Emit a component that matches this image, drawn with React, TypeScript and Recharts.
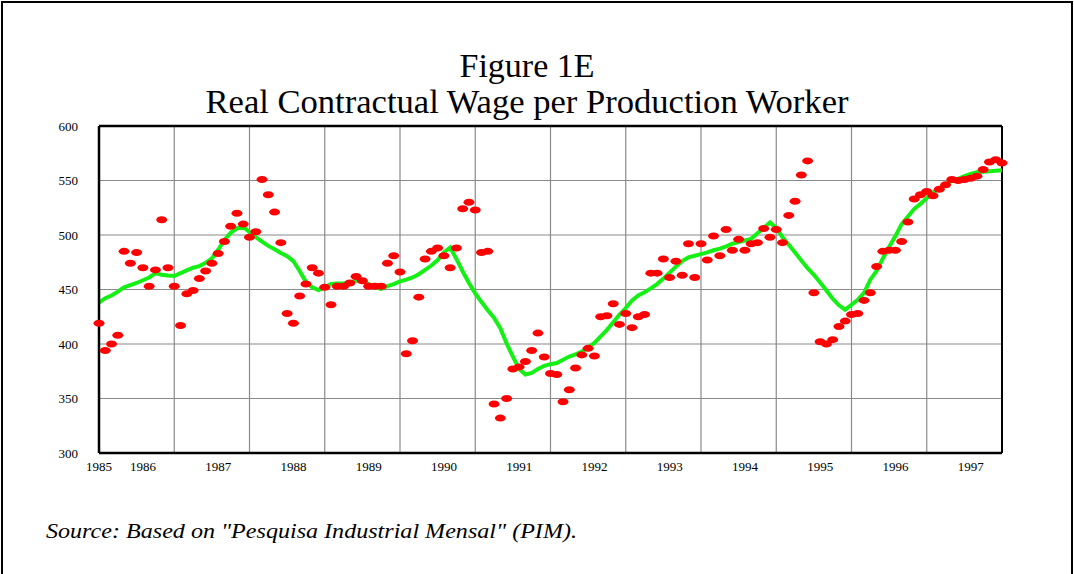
import React from 'react';
import { ComposedChart, Scatter, Line, XAxis, YAxis, CartesianGrid, ReferenceLine } from 'recharts';

// Monthly series, first point = June 1985, last = June 1997
const YEARS = ['1985', '1986', '1987', '1988', '1989', '1990', '1991', '1992', '1993', '1994', '1995', '1996', '1997'];

const WAGE = [
  419, 394, 400, 408, 485, 474, 484, 470, 453, 468, 514, 470,
  453, 417, 446, 449, 460, 467, 474, 483, 494, 508, 520, 510,
  498, 503, 551, 537, 521, 493, 428, 419, 444, 455, 470, 465,
  452, 436, 453, 453, 456, 462, 458, 453, 453, 453, 474, 481,
  466, 391, 403, 443, 478, 485, 488, 481, 470, 488, 524, 530,
  523, 484, 485, 345, 332, 350, 377, 379, 384, 394, 410, 388,
  373, 372, 347, 358, 378, 390, 396, 389, 425, 426, 437, 418,
  428, 415, 425, 427, 465, 465, 478, 461, 476, 463, 492, 461,
  492, 477, 499, 481, 505, 486, 496, 486, 492, 493, 506, 498,
  505, 493, 518, 531, 555, 568, 447, 402, 400, 404, 416, 421,
  427, 428, 440, 447, 471, 485, 486, 486, 494, 512, 533, 537,
  540, 536, 542, 546, 551, 550, 551, 552, 554, 560, 567, 569,
  566,
];

const TREND = [
  438, 442, 444.5, 448, 452, 454, 456, 458.5, 461, 465, 463.5, 462.8,
  462.4, 465, 467.5, 470, 471.5, 474.5, 478.5, 486.5, 495.5, 502, 506, 507.5,
  502.5, 498, 494, 490, 487, 483.5, 480.5, 476, 467, 457, 452, 449.5,
  452, 455, 455.5, 455.5, 456.5, 458, 458, 455, 452, 450.5, 453, 455,
  457.5, 459, 461, 464, 468, 472, 477, 484, 488.5, 478, 466.5, 456,
  446.5, 438.5, 431, 424, 414.5, 400.5, 388.5, 377, 372, 373.5, 377, 380,
  381.5, 382.5, 385.5, 388.5, 390.5, 393, 397, 401, 407, 413, 420, 427,
  433, 440, 444.5, 447.5, 451, 455, 460, 465.5, 471, 476, 479.5, 481,
  482.5, 484, 486, 487.5, 489.5, 492, 493.5, 495, 496.5, 501.5, 506.5, 511.5,
  506.5, 498, 491, 484, 476.5, 469.5, 463.5, 456.5, 449, 441.5, 435.5, 431.5,
  436, 440.5, 447, 459, 467, 478.5, 489, 499, 510, 517, 524, 528.5,
  534, 539, 543, 546.5, 549.5, 551.5, 554, 556, 557.5, 558, 558.5, 559,
  559.5,
];

const Y_TICKS = [300, 350, 400, 450, 500, 550, 600];

const SERIF = '"Liberation Serif", "Times New Roman", Times, serif';

const LAST = WAGE.length - 1;
const GRID_MONTHS = Array.from({ length: Math.floor(LAST / 12) + 1 }, (_, i) => i * 12);
// January of each year sits 7 months after the June start; the first label marks the start itself
const LABEL_MONTHS = YEARS.map((_, i) => (i === 0 ? 0 : i * 12 - 5));

const rows = WAGE.map((w, i) => ({ m: i, wage: w, trend: TREND[i] }));

const Dot = (props: any) => {
  if (props.cx == null || props.cy == null) return null;
  return <ellipse cx={props.cx} cy={props.cy} rx={5.5} ry={3.5} fill="#ff0000" />;
};

const gridX = ({ xAxis, offset }: any) =>
  GRID_MONTHS.map(m =>
    typeof xAxis?.scale === 'function' ? xAxis.scale(m) : offset.left + (m / LAST) * offset.width
  );

export default function App() {
  return (
    <div style={{ position: 'absolute', left: 0, top: 0, width: 1074, height: 574, background: '#fff', overflow: 'hidden' }}>
      <div style={{ position: 'absolute', left: 1, top: 1, width: 1068, height: 600, border: '2px solid #000' }} />
      <ComposedChart
        width={1074}
        height={574}
        data={rows}
        margin={{ top: 126, right: 72, bottom: 91, left: 59 }}
        style={{ position: 'absolute', left: 0, top: 0 }}
      >
        <CartesianGrid stroke="#8a8a8a" strokeWidth={1.2} verticalCoordinatesGenerator={gridX} />
        <XAxis
          dataKey="m"
          type="number"
          domain={[0, LAST]}
          ticks={LABEL_MONTHS}
          tickFormatter={(v: number) => YEARS[LABEL_MONTHS.indexOf(v)]}
          interval={0}
          height={30}
          tickSize={0}
          tickMargin={9}
          tick={{ fontSize: 13, fill: '#000', fontFamily: SERIF }}
          axisLine={{ stroke: '#000', strokeWidth: 2.5 }}
          tickLine={false}
        />
        <YAxis
          type="number"
          domain={[300, 600]}
          ticks={Y_TICKS}
          interval={0}
          width={40}
          tickSize={0}
          tickMargin={21}
          tick={{ fontSize: 13, fill: '#000', fontFamily: SERIF }}
          axisLine={{ stroke: '#000', strokeWidth: 2.5 }}
          tickLine={false}
        />
        <ReferenceLine y={600} stroke="#000" strokeWidth={2.5} />
        <ReferenceLine x={LAST} stroke="#000" strokeWidth={2} />
        <Scatter dataKey="wage" shape={<Dot />} isAnimationActive={false} />
        <Line
          type="linear"
          dataKey="trend"
          stroke="#14f014"
          strokeWidth={4}
          dot={false}
          activeDot={false}
          isAnimationActive={false}
        />
      </ComposedChart>
      <svg width={1074} height={574} style={{ position: 'absolute', left: 0, top: 0, pointerEvents: 'none' }}>
        <text x={527} y={77} textAnchor="middle" fontFamily={SERIF} fontSize={33} fill="#000" textLength={135} lengthAdjust="spacingAndGlyphs">
          Figure 1E
        </text>
        <text x={527} y={113} textAnchor="middle" fontFamily={SERIF} fontSize={33} fill="#000" textLength={643} lengthAdjust="spacingAndGlyphs">
          Real Contractual Wage per Production Worker
        </text>
        <text x={46} y={538} fontFamily={SERIF} fontStyle="italic" fontSize={21} fill="#000" textLength={531} lengthAdjust="spacingAndGlyphs">
          Source: Based on "Pesquisa Industrial Mensal" (PIM).
        </text>
      </svg>
    </div>
  );
}
